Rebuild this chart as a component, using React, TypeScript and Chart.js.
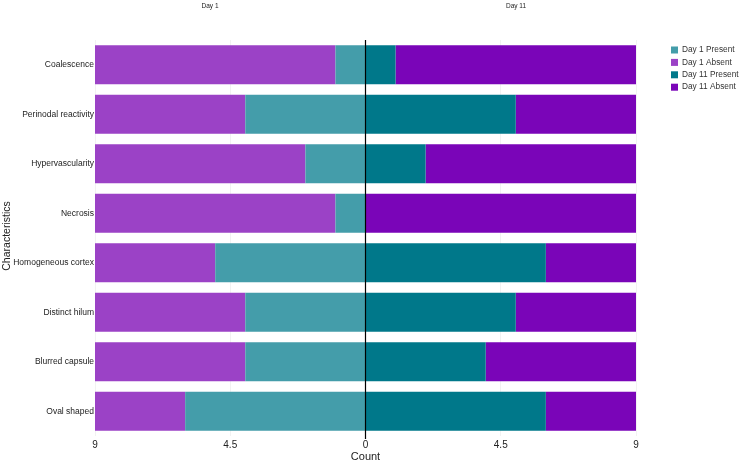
import React, { useEffect, useRef } from "react";
import { Chart, registerables } from "chart.js";

Chart.register(...registerables);

const categories = [
  "Coalescence",
  "Perinodal reactivity",
  "Hypervascularity",
  "Necrosis",
  "Homogeneous cortex",
  "Distinct hilum",
  "Blurred capsule",
  "Oval shaped",
];
const day1Present = [1, 4, 2, 1, 5, 4, 4, 6];
const day1Absent = [8, 5, 7, 8, 4, 5, 5, 3];
const day11Present = [1, 5, 2, 0, 6, 5, 4, 6];
const day11Absent = [8, 4, 7, 9, 3, 4, 5, 3];
const xTicks = [-9, -4.5, 0, 4.5, 9];

const seriesNames = ["Day 1 Present", "Day 1 Absent", "Day 11 Present", "Day 11 Absent"];
const colors = ["#449DAA", "#9B42C6", "#00788A", "#7A05B8"];

const FONT = "'Liberation Sans', Arial, sans-serif";

export default function App() {
  const ref = useRef<HTMLCanvasElement>(null);
  useEffect(() => {
    document.body.style.margin = "0";
    const overlay = {
      id: "overlay",
      afterDatasetsDraw(chart: any) {
        const { ctx, chartArea, scales } = chart;
        const x0 = scales.x.getPixelForValue(0);
        ctx.save();
        ctx.strokeStyle = "#000";
        ctx.lineWidth = 1.2;
        ctx.beginPath();
        ctx.moveTo(x0, chartArea.top);
        ctx.lineTo(x0, chartArea.bottom + 3);
        ctx.stroke();
        ctx.restore();
      },
      afterDraw(chart: any) {
        const { ctx, chartArea } = chart;
        ctx.save();
        ctx.fillStyle = "#222";
        ctx.font = `6.5px ${FONT}`;
        ctx.textAlign = "center";
        ctx.textBaseline = "middle";
        ctx.fillText("Day 1", 210, 6);
        ctx.fillText("Day 11", 516, 6);
        // axis titles
        ctx.font = `11px ${FONT}`;
        ctx.fillText("Count", (chartArea.left + chartArea.right) / 2, 457);
        ctx.save();
        ctx.font = `10.5px ${FONT}`;
        ctx.translate(7, 236);
        ctx.rotate(-Math.PI / 2);
        ctx.fillText("Characteristics", 0, 0);
        ctx.restore();
        // legend
        ctx.font = `8.3px ${FONT}`;
        ctx.textAlign = "left";
        seriesNames.forEach((n, i) => {
          const y = 50 + i * 12.4;
          ctx.fillStyle = colors[i];
          ctx.fillRect(671, y - 3.5, 7, 7);
          ctx.fillStyle = "#333";
          ctx.fillText(n, 682, y);
        });
        ctx.restore();
      },
    };
    const chart = new Chart(ref.current!, {
      type: "bar",
      data: {
        labels: categories,
        datasets: [
          { label: seriesNames[0], data: day1Present.map((v) => -v), backgroundColor: colors[0] },
          { label: seriesNames[1], data: day1Absent.map((v) => -v), backgroundColor: colors[1] },
          { label: seriesNames[2], data: day11Present, backgroundColor: colors[2] },
          { label: seriesNames[3], data: day11Absent, backgroundColor: colors[3] },
        ],
      },
      options: {
        indexAxis: "y",
        animation: false,
        responsive: false,
        maintainAspectRatio: false,
        layout: { padding: { left: 0, right: 107, top: 40, bottom: 0 } },
        datasets: { bar: { barPercentage: 0.79, categoryPercentage: 1 } },
        plugins: { legend: { display: false }, tooltip: { enabled: false } },
        scales: {
          x: {
            stacked: true,
            min: -9,
            max: 9,
            afterFit(s: any) {
              s.height = 28;
            },
            afterBuildTicks(s: any) {
              s.ticks = xTicks.map((v) => ({ value: v }));
            },
            ticks: {
              callback: (v: any) => String(Math.abs(Number(v))),
              font: { family: FONT, size: 10 },
              color: "#222",
              padding: 3,
              maxRotation: 0,
              autoSkip: false,
            },
            grid: { color: "rgba(0,0,0,0.05)", drawTicks: false },
            border: { display: false },
          },
          y: {
            stacked: true,
            afterFit(s: any) {
              s.width = 95;
            },
            ticks: {
              font: { family: FONT, size: 8.5 },
              color: "#222",
              padding: 1,
            },
            grid: { display: false, drawTicks: false },
            border: { display: false },
          },
        },
      },
      plugins: [overlay],
    });
    return () => chart.destroy();
  }, []);
  return (
    <div style={{ position: "absolute", left: 0, top: 0, width: 743, height: 464, background: "#fff" }}>
      <canvas ref={ref} width={743} height={464} style={{ width: 743, height: 464 }} />
    </div>
  );
}
